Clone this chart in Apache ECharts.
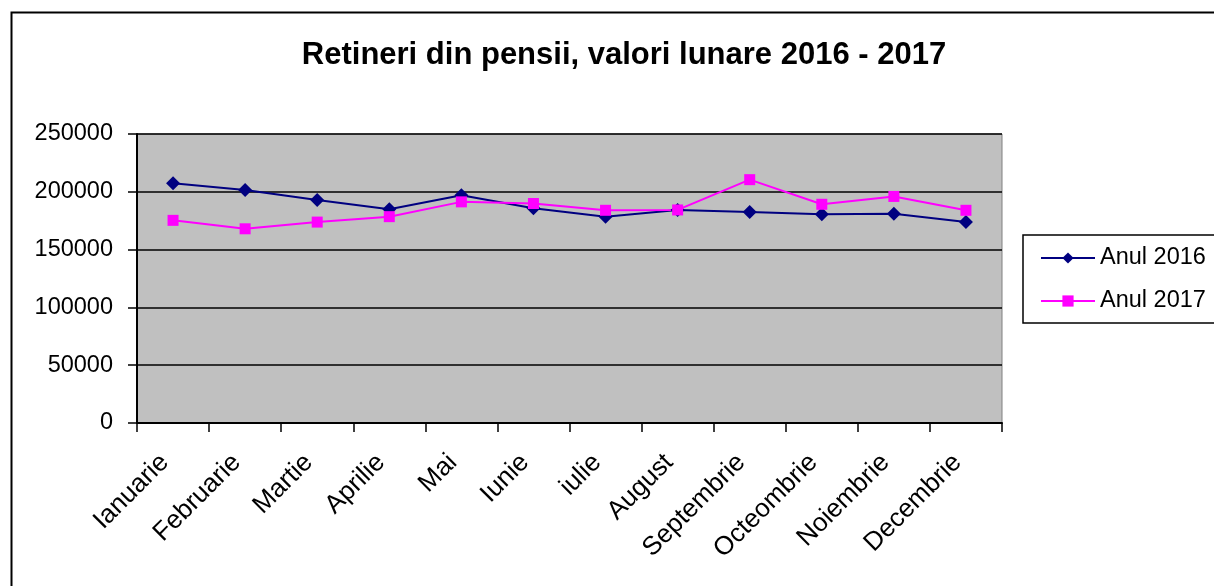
<!DOCTYPE html>
<html>
<head>
<meta charset="utf-8">
<script src="https://cdn.jsdelivr.net/npm/echarts@6/dist/echarts.min.js"></script>
<style>
html,body{margin:0;padding:0;background:#fff;}
#c{width:1214px;height:586px;}
</style>
</head>
<body>
<div id="c"></div>
<script>
const titleText = 'Retineri din pensii, valori lunare 2016 - 2017';
const months = ['Ianuarie','Februarie','Martie','Aprilie','Mai','Iunie','iulie','August','Septembrie','Octeombrie','Noiembrie','Decembrie'];
const anul2016 = [207300, 201500, 193000, 184900, 197000, 185800, 178500, 184300, 182500, 180500, 181100, 173800];
const anul2017 = [175300, 168000, 173800, 178500, 191300, 189900, 184000, 184300, 210500, 189200, 196000, 184000];
const yMin = 0, yMax = 250000, yStep = 50000;

const FONT = 'Liberation Sans, Arial, sans-serif';
const chart = echarts.init(document.getElementById('c'), null, {renderer:'canvas'});
chart.setOption({
  animation: false,
  backgroundColor: '#ffffff',
  graphic: [{
    type: 'rect', left: 9, top: 10, z: -1,
    shape: {width: 1400, height: 800},
    style: {fill: 'none', stroke: '#000', lineWidth: 2}
  }],
  title: {
    text: titleText, left: 619, top: 35, textAlign: 'center',
    textStyle: {fontFamily: FONT, fontSize: 31, fontWeight: 'bold', color: '#000'}
  },
  legend: {
    left: 1023, top: 235, orient: 'vertical',
    borderColor: '#000', borderWidth: 1.5, backgroundColor: '#fff',
    padding: [11, 40, 10, 17],
    itemWidth: 54, itemHeight: 14, itemGap: 19,
    textStyle: {fontFamily: FONT, fontSize: 23.5, lineHeight: 23, color: '#000'},
    data: ['Anul 2016', 'Anul 2017']
  },
  grid: {
    left: 137, right: 212, top: 134, bottom: 163,
    show: true, backgroundColor: '#C0C0C0', borderColor: '#808080', borderWidth: 1,
    containLabel: false
  },
  xAxis: {
    type: 'category', data: months, boundaryGap: true,
    axisLine: {lineStyle: {color: '#000', width: 2}},
    axisTick: {show: true, interval: 0, length: 9, lineStyle: {color: '#000', width: 1.5}},
    axisLabel: {interval: 0, rotate: 45, margin: 27, padding: [0, 12, 0, 0], fontFamily: FONT, fontSize: 26, color: '#000'}
  },
  yAxis: {
    type: 'value', min: yMin, max: yMax, interval: yStep,
    axisLine: {show: true, lineStyle: {color: '#000', width: 2}},
    axisTick: {show: true, length: 9, lineStyle: {color: '#000', width: 1.5}},
    axisLabel: {margin: 24, fontFamily: FONT, fontSize: 23.5, color: '#000', formatter: v => String(v)},
    splitLine: {show: true, lineStyle: {color: '#000', width: 1.5}}
  },
  series: [
    {
      name: 'Anul 2016', type: 'line', data: anul2016,
      symbol: 'diamond', symbolSize: 14,
      lineStyle: {color: '#000080', width: 2},
      itemStyle: {color: '#000080'}
    },
    {
      name: 'Anul 2017', type: 'line', data: anul2017,
      symbol: 'rect', symbolSize: 11,
      lineStyle: {color: '#FF00FF', width: 2},
      itemStyle: {color: '#FF00FF'}
    }
  ]
});
</script>
</body>
</html>
